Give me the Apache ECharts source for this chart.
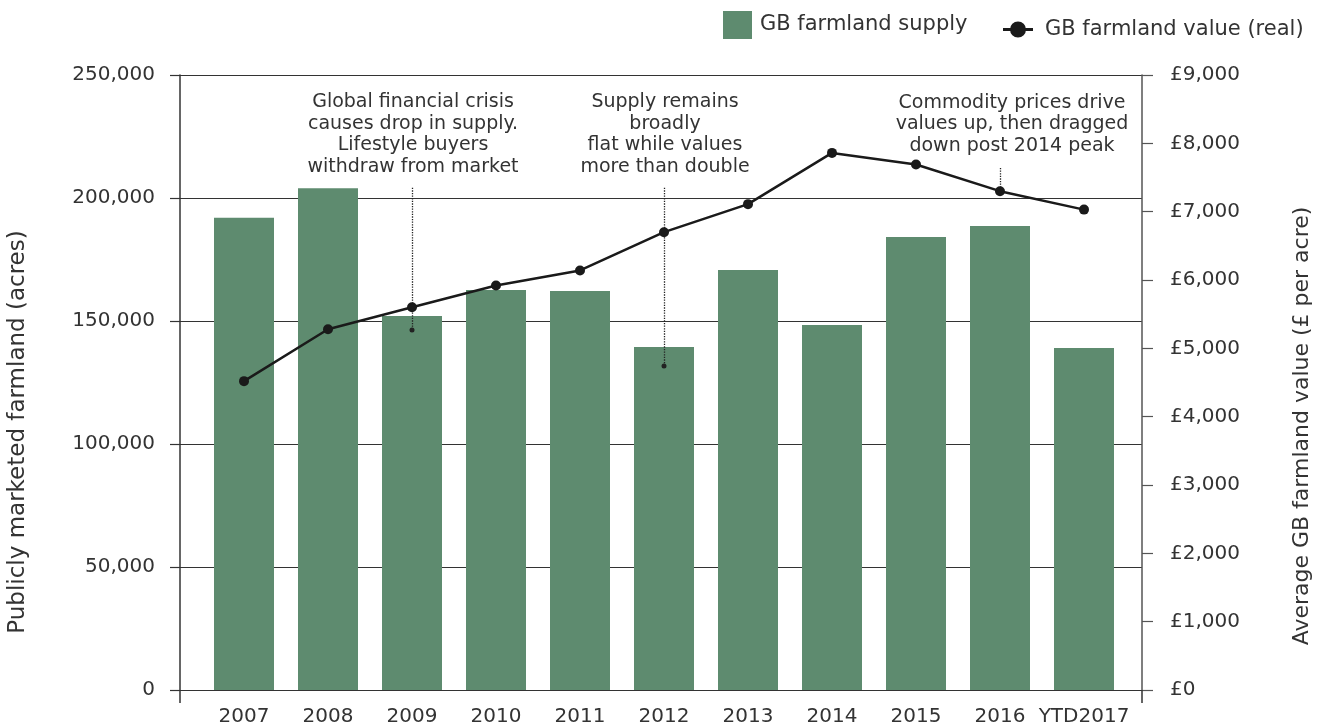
<!DOCTYPE html>
<html>
<head>
<meta charset="utf-8">
<script src="https://cdn.jsdelivr.net/npm/echarts@6/dist/echarts.min.js"></script>
<style>
html,body{margin:0;padding:0;background:#fff;}
#chart{width:1321px;height:724px;}
</style>
</head>
<body>
<div id="chart"></div>
<script>
// ---- data ----
var categories = ['2007','2008','2009','2010','2011','2012','2013','2014','2015','2016','YTD2017'];
var supplyAcres = [192000, 204000, 152000, 162600, 162200, 139400, 170700, 148400, 184100, 188600, 139000];
var valuePerAcre = [4520, 5280, 5600, 5920, 6140, 6700, 7110, 7860, 7690, 7300, 7030];
var leftTicks = {min: 0, max: 250000, interval: 50000};
var rightTicks = {min: 0, max: 9000, interval: 1000};
// annotations: category, text, text-bottom value (right axis), dotted line top/bottom values (right axis)
var annoCats = ['2009', '2012', '2016'];
var annoTexts = [
  'Global financial crisis\ncauses drop in supply.\nLifestyle buyers\nwithdraw from market',
  'Supply remains\nbroadly\nflat while values\nmore than double',
  'Commodity prices drive\nvalues up, then dragged\ndown post 2014 peak'
];
var annoTextBase = [7500, 7500, 7810];
var annoLineTop = [7350, 7350, 7640];
var annoLineBottom = [5270, 4740, 7300];
var annoEndDot = [true, true, false];

var FONT = 'DejaVu Sans';
var TXT = '#333333';
function commas(v){ return String(v).replace(/\B(?=(\d{3})+(?!\d))/g, ','); }

var markLineData = annoCats.map(function(c, i){
  return [
    {coord: [c, annoLineTop[i]], symbol: 'none'},
    {coord: [c, annoLineBottom[i]], symbol: annoEndDot[i] ? 'circle' : 'none'}
  ];
});
var markPointData = annoCats.map(function(c, i){
  return {
    coord: [c, annoTextBase[i]],
    label: {formatter: annoTexts[i], offset: [i === 2 ? 12 : 1, 0]}
  };
});

var lineIcon = 'path://M7,8 A8,8 0 1,1 23,8 A8,8 0 1,1 7,8 Z M0,6.5 L30,6.5 L30,9.5 L0,9.5 Z';

var chart = echarts.init(document.getElementById('chart'));
chart.setOption({
  animation: false,
  backgroundColor: '#ffffff',
  grid: [
    {left: 180, right: 179, top: 75, bottom: 34, containLabel: false, outerBoundsMode: 'none'},
    {left: 202, right: 195, top: 75, bottom: 34, containLabel: false, outerBoundsMode: 'none'}
  ],
  legend: [
    {data: [{name: 'GB farmland supply', icon: 'rect'}], left: 723, top: 11, padding: 0,
     itemWidth: 29, itemHeight: 28,
     textStyle: {fontFamily: FONT, fontSize: 21, color: TXT, padding: [0, 0, 0, 3]}},
    {data: [{name: 'GB farmland value (real)', icon: lineIcon}], left: 1003, top: 19, padding: 0,
     itemWidth: 30, itemHeight: 16,
     textStyle: {fontFamily: FONT, fontSize: 21, color: TXT, padding: [0, 0, 0, 7]}}
  ],
  xAxis: [
    {gridIndex: 0, type: 'value', min: 0, max: 1, interval: 1,
     axisLine: {show: false}, axisLabel: {show: false}, splitLine: {show: false},
     axisTick: {show: true, length: 13, lineStyle: {color: '#333', width: 1.5}}},
    {gridIndex: 1, type: 'category', data: categories, boundaryGap: true,
     axisLine: {show: false}, axisTick: {show: false},
     axisLabel: {fontFamily: FONT, fontSize: 20, color: TXT, margin: 17, interval: 0}}
  ],
  yAxis: [
    {gridIndex: 0, type: 'value', position: 'left', min: leftTicks.min, max: leftTicks.max, interval: leftTicks.interval,
     axisLine: {show: true, lineStyle: {color: '#333', width: 1.5}},
     axisTick: {show: true, length: 10, lineStyle: {color: '#333', width: 1.2}},
     splitLine: {show: true, lineStyle: {color: '#333', width: 1.2}},
     axisLabel: {fontFamily: FONT, fontSize: 20, color: TXT, margin: 25, formatter: function(v){ return commas(v); }}},
    {gridIndex: 0, type: 'value', position: 'right', min: rightTicks.min, max: rightTicks.max, interval: rightTicks.interval,
     axisLine: {show: true, lineStyle: {color: '#555', width: 1.5}},
     axisTick: {show: true, length: 11, lineStyle: {color: '#555', width: 1.2}},
     splitLine: {show: false},
     axisLabel: {fontFamily: FONT, fontSize: 20, color: TXT, margin: 28, formatter: function(v){ return '£' + commas(v); }}},
    {gridIndex: 1, type: 'value', min: leftTicks.min, max: leftTicks.max, show: false, splitLine: {show: false}},
    {gridIndex: 1, type: 'value', min: rightTicks.min, max: rightTicks.max, show: false, splitLine: {show: false}}
  ],
  series: [
    {name: 'GB farmland supply', type: 'bar', xAxisIndex: 1, yAxisIndex: 2,
     data: supplyAcres, barWidth: 60, itemStyle: {color: '#5e8b6f'}},
    {name: 'GB farmland value (real)', type: 'line', xAxisIndex: 1, yAxisIndex: 3,
     data: valuePerAcre, symbol: 'circle', symbolSize: 10, z: 5,
     itemStyle: {color: '#1a1a1a'}, lineStyle: {color: '#1a1a1a', width: 2.5},
     markLine: {silent: true, symbolSize: 5, label: {show: false},
       lineStyle: {type: 'dotted', color: '#222', width: 1.3}, data: markLineData},
     markPoint: {silent: true, symbol: 'circle', symbolSize: 0, itemStyle: {color: 'transparent'},
       label: {show: true, position: 'top', distance: 0, fontFamily: FONT, fontSize: 19,
               lineHeight: 21.5, color: TXT, align: 'center'},
       data: markPointData}}
  ],
  graphic: [
    {type: 'text', x: 18, y: 432, rotation: Math.PI / 2,
     style: {text: 'Publicly marketed farmland (acres)', fontFamily: FONT, fontSize: 23, fill: TXT,
             align: 'center', verticalAlign: 'middle'}},
    {type: 'text', x: 1302, y: 426, rotation: Math.PI / 2,
     style: {text: 'Average GB farmland value (£ per acre)', fontFamily: FONT, fontSize: 22, fill: TXT,
             align: 'center', verticalAlign: 'middle'}}
  ]
});
</script>
</body>
</html>
